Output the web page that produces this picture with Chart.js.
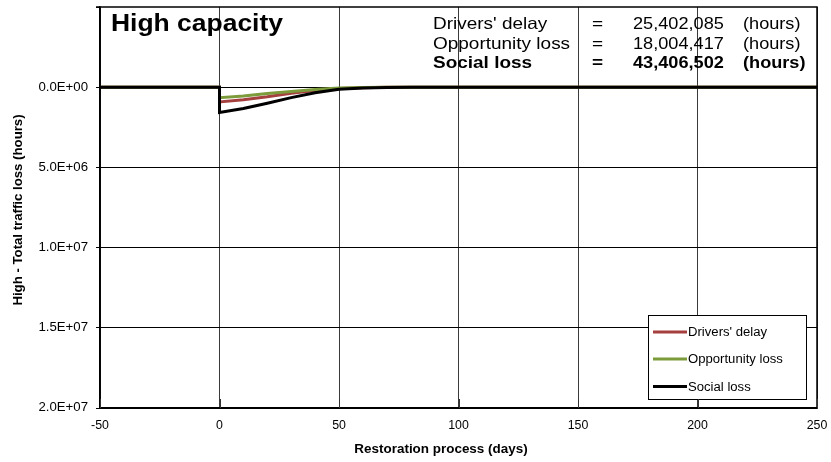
<!DOCTYPE html>
<html>
<head>
<meta charset="utf-8">
<script src="https://cdn.jsdelivr.net/npm/chart.js@4/dist/chart.umd.min.js"></script>
<style>
  html, body { margin: 0; padding: 0; background: #fff; }
  #wrap { width: 831px; height: 462px; position: relative; }
</style>
</head>
<body>
<div id="wrap"><canvas id="c" width="831" height="462"></canvas></div>
<script>
// Restoration days (x) and traffic loss in hours (y) for each series
const days          = [-50, 0, 0, 10, 20, 30, 40, 50, 60, 70, 80, 250];
const driversDelay  = [0, 0, 920000, 780000, 600000, 380000, 200000, 80000, 30000, 10000, 0, 0];
const opportunity   = [0, 0, 650000, 550000, 400000, 270000, 150000, 50000, 20000, 10000, 0, 0];
const socialLoss    = [0, 0, 1570000, 1330000, 1000000, 650000, 350000, 130000, 50000, 20000, 0, 0];

const xTicks = [-50, 0, 50, 100, 150, 200, 250];
const yTicks = [0, 5000000, 10000000, 15000000, 20000000];

const seriesNames = ["Drivers' delay", "Opportunity loss", "Social loss"];
const totals = ["25,402,085", "18,004,417", "43,406,502"];

const FONT = "'Liberation Sans', Arial, sans-serif";
const RED = '#A6403F';
const GREEN = '#7C9B3A';
const BLACK = '#000000';

const pts = (vals) => days.map((d, i) => ({ x: d, y: vals[i] }));

function sci(v) {
  if (v === 0) return '0.0E+00';
  const [m, e] = v.toExponential(1).split('e');
  const n = parseInt(e, 10);
  return m + 'E' + (n < 0 ? '-' : '+') + String(Math.abs(n)).padStart(2, '0');
}

// text drawn with a slight horizontal stretch (wide Arial look)
function txt(ctx, s, x, y, font, align, sx, baseline) {
  ctx.save();
  ctx.font = font;
  ctx.textBaseline = baseline || 'alphabetic';
  ctx.textAlign = 'left';
  const w = ctx.measureText(s).width * sx;
  const x0 = align === 'left' ? x : align === 'right' ? x - w : x - w / 2;
  ctx.translate(x0, y);
  ctx.scale(sx, 1);
  ctx.fillStyle = '#000';
  ctx.fillText(s, 0, 0);
  ctx.restore();
}

const overlay = {
  id: 'overlay',
  afterDraw(chart) {
    const ctx = chart.ctx;
    const a = chart.chartArea;
    const xs = chart.scales.x;
    const ys = chart.scales.y;
    ctx.save();

    // plot frame
    ctx.strokeStyle = '#000';
    ctx.lineWidth = 1.5;
    ctx.strokeRect(a.left, a.top, a.right - a.left, a.bottom - a.top);
    ctx.beginPath();
    ctx.moveTo(a.left - 4, a.top); ctx.lineTo(a.left, a.top);
    ctx.stroke();

    // axis tick labels
    const tickFont = '12px ' + FONT;
    yTicks.forEach(v => txt(ctx, sci(v), 88, ys.getPixelForValue(v), tickFont, 'right', 1.1, 'middle'));
    xTicks.forEach(v => txt(ctx, String(v), xs.getPixelForValue(v), 426, tickFont, 'center', 1.03, 'middle'));

    // axis titles
    const titleFont = 'bold 12px ' + FONT;
    txt(ctx, 'Restoration process (days)', 441, 450, titleFont, 'center', 1.12, 'middle');
    ctx.save();
    ctx.translate(18.5, 210);
    ctx.rotate(-Math.PI / 2);
    txt(ctx, 'High - Total traffic loss (hours)', 0, 0, titleFont, 'center', 1.1, 'middle');
    ctx.restore();

    // chart title
    txt(ctx, 'High capacity', 111, 31, 'bold 23px ' + FONT, 'left', 1.15);

    // totals block
    const rowsY = [29, 49, 68];
    for (let i = 0; i < 3; i++) {
      const f = (i === 2 ? 'bold ' : '') + '16.5px ' + FONT;
      txt(ctx, seriesNames[i], 433, rowsY[i], f, 'left', 1.15);
      txt(ctx, '=', 592, rowsY[i], f, 'left', 1.15);
      txt(ctx, totals[i], 633, rowsY[i], f, 'left', 1.1);
      txt(ctx, '(hours)', 743, rowsY[i], f, 'left', 1.1);
    }

    // legend box
    const lx = 648, ly = 315, lw = 158, lh = 84;
    ctx.fillStyle = '#fff';
    ctx.fillRect(lx, ly, lw, lh);
    ctx.strokeStyle = '#000';
    ctx.lineWidth = 1;
    ctx.strokeRect(lx + 0.5, ly + 0.5, lw, lh);
    const colors = [RED, GREEN, BLACK];
    const ey = [332, 359, 386.5];
    for (let i = 0; i < 3; i++) {
      ctx.strokeStyle = colors[i];
      ctx.lineWidth = 3;
      ctx.beginPath();
      ctx.moveTo(653, ey[i]); ctx.lineTo(687, ey[i]);
      ctx.stroke();
      txt(ctx, seriesNames[i], 688, ey[i] + 1, '12.5px ' + FONT, 'left', 1.05, 'middle');
    }

    // short inward ticks on the x axis
    ctx.strokeStyle = '#333';
    ctx.lineWidth = 1;
    xTicks.forEach(t => {
      const px = Math.round(xs.getPixelForValue(t)) + 0.5;
      ctx.beginPath();
      ctx.moveTo(px, a.bottom - 9); ctx.lineTo(px, a.bottom);
      ctx.stroke();
    });
    ctx.restore();
  }
};

new Chart(document.getElementById('c'), {
  type: 'scatter',
  data: {
    datasets: [
      { label: seriesNames[2], data: pts(socialLoss), borderColor: BLACK, borderWidth: 3, order: 0 },
      { label: seriesNames[1], data: pts(opportunity), borderColor: GREEN, borderWidth: 3, order: 1 },
      { label: seriesNames[0], data: pts(driversDelay), borderColor: RED, borderWidth: 3, order: 2 }
    ].map(d => Object.assign(d, { showLine: true, pointRadius: 0, tension: 0, fill: false }))
  },
  options: {
    responsive: false,
    animation: false,
    layout: { padding: { left: 0, right: 14, top: 7, bottom: 0 } },
    plugins: { legend: { display: false }, tooltip: { enabled: false } },
    scales: {
      x: {
        type: 'linear',
        min: -50, max: 250,
        afterBuildTicks: s => { s.ticks = xTicks.map(v => ({ value: v })); },
        afterFit: s => { s.height = 54; },
        ticks: { display: false },
        grid: { color: '#3a3a3a', lineWidth: 1, drawTicks: false },
        border: { display: true, color: '#000', width: 1.5 }
      },
      y: {
        type: 'linear',
        reverse: true,
        min: -5000000, max: 20000000,
        afterBuildTicks: s => { s.ticks = [-5000000].concat(yTicks).map(v => ({ value: v })); },
        afterFit: s => { s.width = 100; },
        ticks: { display: false },
        grid: { color: ctx => (ctx.tick && ctx.tick.value < 0 ? 'rgba(0,0,0,0)' : '#000'), lineWidth: 1, tickLength: 4, tickColor: '#000' },
        border: { display: true, color: '#000', width: 1.5 }
      }
    }
  },
  plugins: [overlay]
});
</script>
</body>
</html>
